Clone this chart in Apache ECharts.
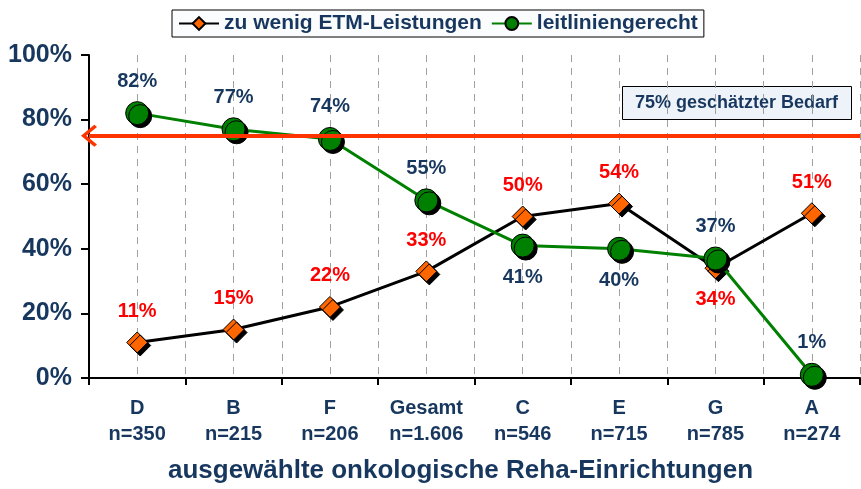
<!DOCTYPE html>
<html lang="de">
<head>
    <meta charset="UTF-8">
    <script type="text/javascript" src="https://cdn.jsdelivr.net/npm/echarts@6.0.0/dist/echarts.min.js"></script>
    <style>
        html, body {
            margin: 0;
            overflow: hidden;
            background: #fff;
        }
        #viewport {
            position: absolute;
            left: 0px;
            top: 0px;
            width: 861px;
            height: 489px;
        }
    </style>
</head>
<body>
<div id="viewport"></div>
<script>
    var categories = ['D', 'B', 'F', 'Gesamt', 'C', 'E', 'G', 'A'];
    var sampleSizes = ['n=350', 'n=215', 'n=206', 'n=1.606', 'n=546', 'n=715', 'n=785', 'n=274'];
    var zuWenig = [11, 15, 22, 33, 50, 54, 34, 51];
    var leitlinie = [82, 77, 74, 55, 41, 40, 37, 1];
    var bedarf = 75;
    var yTicks = [0, 20, 40, 60, 80, 100];

    // labels that sit below the point instead of above
    var zuWenigBelow = ['G'];
    var leitlinieBelow = ['C', 'E'];

    var navy = '#17375E';
    var font = 'Liberation Sans, Arial, sans-serif';

    function withLabels(values, below, color) {
        return values.map(function (v, i) {
            var under = below.indexOf(categories[i]) >= 0;
            return {
                value: v,
                label: {
                    show: true,
                    position: under ? 'bottom' : 'top',
                    distance: 10,
                    formatter: '{c}%',
                    color: color,
                    fontWeight: 'bold',
                    fontSize: 20,
                    fontFamily: font
                }
            };
        });
    }

    var myChart = echarts.init(document.getElementById('viewport'));

    var option = {
        animation: false,
        textStyle: { fontFamily: font },
        legend: {
            left: 172,
            top: 10,
            padding: [3, 6, 3, 6],
            itemGap: 9,
            itemWidth: 40,
            itemHeight: 16,
            borderColor: '#000',
            borderWidth: 1,
            backgroundColor: '#fbfcfe',
            textStyle: { color: navy, fontWeight: 'bold', fontSize: 21, fontFamily: font },
            data: ['zu wenig ETM-Leistungen', 'leitliniengerecht']
        },
        grid: { left: 89, right: 1, top: 55, bottom: 110 },
        xAxis: [{
            type: 'category',
            data: categories,
            axisLine: { lineStyle: { color: '#000', width: 2 } },
            axisTick: { show: true, length: 7, lineStyle: { color: '#000', width: 2 } },
            axisLabel: {
                margin: 17,
                lineHeight: 26,
                color: navy,
                fontWeight: 'bold',
                fontSize: 20,
                formatter: function (v, i) { return v + '\n' + sampleSizes[i]; }
            },
            splitLine: { show: false },
            name: 'ausgewählte onkologische Reha-Einrichtungen',
            nameLocation: 'middle',
            nameGap: 80,
            nameTextStyle: { color: navy, fontWeight: 'bold', fontSize: 26, padding: [0, 28, 0, 0] }
        }, {
            // half-category dashed guides
            type: 'value',
            min: 0,
            max: categories.length * 2,
            interval: 1,
            position: 'bottom',
            axisLine: { show: false },
            axisTick: { show: false },
            axisLabel: { show: false },
            splitLine: { show: true, lineStyle: { color: '#a0a0a0', type: [7, 6], width: 1 } }
        }],
        yAxis: {
            type: 'value',
            min: 0,
            max: 100,
            interval: 20,
            axisLine: { show: true, lineStyle: { color: '#000', width: 2 } },
            axisTick: { show: true, length: 8, lineStyle: { color: '#000', width: 2 } },
            axisLabel: {
                margin: 17,
                color: navy,
                fontWeight: 'bold',
                fontSize: 25,
                formatter: function (v) { return yTicks.indexOf(v) >= 0 ? v + '%' : ''; }
            },
            splitLine: { show: false }
        },
        series: [{
            name: 'zu wenig ETM-Leistungen',
            type: 'line',
            xAxisIndex: 0,
            data: withLabels(zuWenig, zuWenigBelow, '#FF0000'),
            symbol: 'diamond',
            symbolSize: 21,
            lineStyle: { color: '#000', width: 3 },
            itemStyle: {
                color: '#FF6600',
                borderColor: '#000',
                borderWidth: 1,
                shadowColor: '#000',
                shadowOffsetX: 3,
                shadowOffsetY: 3,
                shadowBlur: 0
            },
            z: 3,
            markLine: {
                silent: true,
                symbol: ['path://M0,10 L10,0 L20,10 L18,12 L10,4 L2,12 Z', 'none'],
                symbolSize: [22, 16],
                lineStyle: { color: '#FF3300', width: 4, type: 'solid' },
                label: { show: false },
                data: [{ yAxis: bedarf }]
            }
        }, {
            name: 'leitliniengerecht',
            type: 'line',
            xAxisIndex: 0,
            data: withLabels(leitlinie, leitlinieBelow, navy),
            symbol: 'circle',
            symbolSize: 23,
            lineStyle: { color: '#008000', width: 3 },
            itemStyle: {
                color: '#008000',
                borderColor: '#000',
                borderWidth: 1,
                shadowColor: '#000',
                shadowOffsetX: 3,
                shadowOffsetY: 3,
                shadowBlur: 0
            },
            z: 4
        }],
        graphic: [{
            type: 'group',
            left: 622,
            top: 86,
            children: [{
                type: 'rect',
                shape: { x: 0, y: 0, width: 229, height: 33 },
                style: { fill: '#EEF3FA', stroke: '#000', lineWidth: 1 }
            }, {
                type: 'text',
                x: 114,
                y: 17,
                style: {
                    text: '75% geschätzter Bedarf',
                    fill: navy,
                    font: 'bold 18px Liberation Sans, Arial, sans-serif',
                    align: 'center',
                    verticalAlign: 'middle'
                }
            }]
        }]
    };

    myChart.setOption(option);
</script>
</body>
</html>
